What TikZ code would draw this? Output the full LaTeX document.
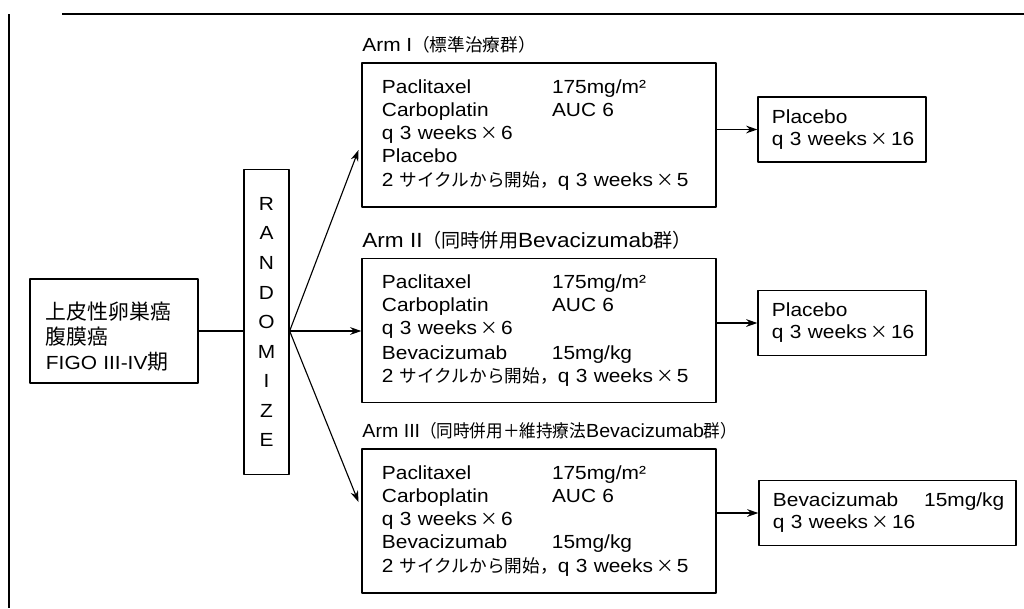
\documentclass[tikz,border=0pt]{standalone}
\usepackage{fontspec}
\setmainfont{Liberation Sans}[FakeStretch=1.1]
\newfontfamily\jpfont{Noto Sans CJK JP}[Scale=0.93]
\newfontfamily\jpbigfont{Noto Sans CJK JP}[Scale=1.1]
\newcommand\jp[1]{{\jpfont #1}}
\newcommand\jpbig[1]{{\jpbigfont #1}}
\newcommand\tms{\,\jp{×}\,}
\usetikzlibrary{positioning,arrows.meta}

\begin{document}
\begin{tikzpicture}[x=0.025cm, y=-0.025cm, line join=round,
  >={Stealth[length=8pt,width=5.5pt]},
  font=\fontsize{13.5}{16.4}\selectfont,
  box/.style={draw, line width=0.9pt, inner sep=0pt},
  armbox/.style={box, minimum height=3.6cm, inner xsep=0.5cm, text width=7.85cm,
    align=left, font=\fontsize{13.5}{16.4}\selectfont},
  postbox/.style={box, minimum height=1.63cm, inner xsep=0.35cm, align=left,
    font=\fontsize{13.5}{15.7}\selectfont},
  armlabel/.style={inner sep=0pt}]
\useasboundingbox (0,0) rectangle (1024,608);
% frame
\draw[line width=0.9pt] (62,14) -- (1024,14) (9,14) -- (9,608);
% patients and randomisation
\node[box, minimum height=2.6cm, text width=3.4cm, inner xsep=0.4cm, align=left,
  font=\fontsize{13.5}{17.8}\selectfont] (diag) at (114,331)
  {\rule{0pt}{21pt}\jpbig{上皮性卵巣癌}\\\jpbig{腹膜癌}\\FIGO III-IV\jpbig{期}};
\node[box, minimum width=1.125cm, minimum height=7.625cm, align=center,
  font=\fontsize{13.5}{21}\selectfont] (rand) at (266.5,322)
  {R\\A\\N\\D\\O\\M\\I\\Z\\E};
% arms
\node[armbox] (arm1) at (539,135)
  {\makebox[4.25cm][l]{Paclitaxel}175mg/m²\\
   \makebox[4.25cm][l]{Carboplatin}AUC 6\\
   q~3~weeks\tms 6\\
   Placebo\\
   2 \jp{サイクルから開始，}q~3~weeks\tms 5};
\node[armbox] (arm2) at (539,330.5)
  {\makebox[4.25cm][l]{Paclitaxel}175mg/m²\\
   \makebox[4.25cm][l]{Carboplatin}AUC 6\\
   q~3~weeks\tms 6\\[1pt]
   \makebox[4.25cm][l]{Bevacizumab}15mg/kg\\
   2 \jp{サイクルから開始，}q~3~weeks\tms 5};
\node[armbox] (arm3) at (539,521)
  {\makebox[4.25cm][l]{Paclitaxel}175mg/m²\\
   \makebox[4.25cm][l]{Carboplatin}AUC 6\\
   q~3~weeks\tms 6\\
   \makebox[4.25cm][l]{Bevacizumab}15mg/kg\\
   2 \jp{サイクルから開始，}q~3~weeks\tms 5};
\node[armlabel, above right=0.22cm and 0.02cm of arm1.north west] (lab1)
  {Arm I\jp{（標準治療群）}};
\node[armlabel, font=\fontsize{14.6}{16}\selectfont,
  above right=0.2cm and 0.02cm of arm2.north west] (lab2)
  {Arm II\jp{（同時併用}Bevacizumab\jp{群）}};
\node[armlabel, above right=0.22cm and 0.02cm of arm3.north west] (lab3)
  {\scalebox{0.94}[1]{Arm III\jp{（同時併用＋維持療法}Bevacizumab\jp{群）}}};
% maintenance
\node[postbox, text width=3.5cm] (post1) at (842,129.5)
  {Placebo\\q~3~weeks\tms 16};
\node[postbox, text width=3.5cm] (post2) at (842,323)
  {Placebo\\q~3~weeks\tms 16};
\node[postbox, text width=5.725cm] (post3) at (887.5,513)
  {\makebox[3.78cm][l]{Bevacizumab}15mg/kg\\q~3~weeks\tms 16};
% connectors
\coordinate (split) at (diag.east -| rand.east);
\draw[line width=0.8pt] (diag.east) -- (diag.east -| rand.west);
\draw[->, line width=0.8pt] (split) -- ([xshift=-0.07cm, yshift=-0.375cm]arm1.west);
\draw[->, line width=0.8pt] (split) -- (split -| arm2.west);
\draw[->, line width=0.8pt] (split) -- ([xshift=-0.07cm, yshift=0.475cm]arm3.west);
\foreach \a/\p in {arm1/post1, arm2/post2, arm3/post3}
  \draw[->, line width=0.8pt] (\p.west -| \a.east) -- (\p.west);
\end{tikzpicture}
\end{document}
